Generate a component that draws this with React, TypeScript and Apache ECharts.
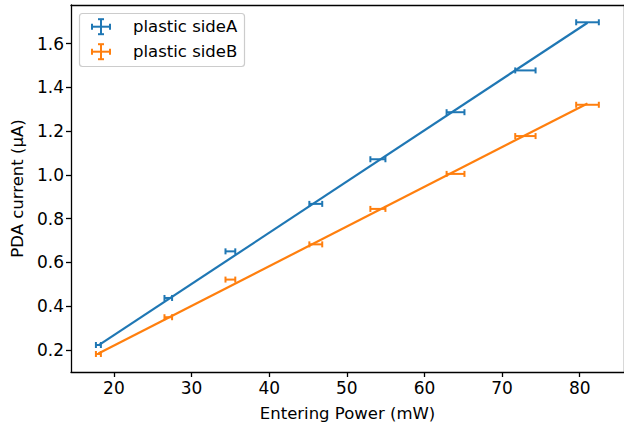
import React, { useEffect, useRef } from "react";
import * as echarts from "echarts";

const xValues = [18, 27, 35, 46, 54, 64, 73, 81];
const xErr = [0.32, 0.49, 0.63, 0.83, 0.97, 1.15, 1.31, 1.46];
const sideA = [0.222, 0.437, 0.65, 0.867, 1.071, 1.286, 1.477, 1.697];
const sideB = [0.181, 0.349, 0.521, 0.682, 0.844, 1.004, 1.177, 1.32];
const fitX = [18, 81];
const fitA = [0.22, 1.695];
const fitB = [0.183, 1.326];
const xTicks = [20, 30, 40, 50, 60, 70, 80];
const yTicks = [0.2, 0.4, 0.6, 0.8, 1.0, 1.2, 1.4, 1.6];
const seriesNames = ["plastic sideA", "plastic sideB"];
const colors = ["#1f77b4", "#ff7f0e"];

const FONT = "DejaVu Sans";
const FS = 16.5;

function errRender(color: string) {
  return (params: any, api: any) => {
    const x = api.value(0);
    const y = api.value(1);
    const e = api.value(2);
    const p1 = api.coord([x - e, y]);
    const p2 = api.coord([x + e, y]);
    const cap = 3;
    const st = { stroke: color, lineWidth: 2 };
    return {
      type: "group",
      children: [
        { type: "line", shape: { x1: p1[0], y1: p1[1], x2: p2[0], y2: p2[1] }, style: st },
        { type: "line", shape: { x1: p1[0], y1: p1[1] - cap, x2: p1[0], y2: p1[1] + cap }, style: st },
        { type: "line", shape: { x1: p2[0], y1: p2[1] - cap, x2: p2[0], y2: p2[1] + cap }, style: st },
      ],
    };
  };
}

function legendIcon(cx: number, cy: number, color: string) {
  const st = { stroke: color, lineWidth: 2 };
  const hw = 9;
  const hh = 7.5;
  const c = 3;
  return [
    { type: "line", shape: { x1: cx - hw, y1: cy, x2: cx + hw, y2: cy }, style: st },
    { type: "line", shape: { x1: cx - hw, y1: cy - c, x2: cx - hw, y2: cy + c }, style: st },
    { type: "line", shape: { x1: cx + hw, y1: cy - c, x2: cx + hw, y2: cy + c }, style: st },
    { type: "line", shape: { x1: cx, y1: cy - hh, x2: cx, y2: cy + hh }, style: st },
    { type: "line", shape: { x1: cx - c, y1: cy - hh, x2: cx + c, y2: cy - hh }, style: st },
    { type: "line", shape: { x1: cx - c, y1: cy + hh, x2: cx + c, y2: cy + hh }, style: st },
  ];
}

export default function App() {
  const ref = useRef<HTMLDivElement>(null);
  useEffect(() => {
    if (!ref.current) return;
    const chart = echarts.init(ref.current, null, { renderer: "svg" });
    const axisLineStyle = { color: "#000", width: 1.3 };
    const labelStyle = { color: "#000", fontSize: FS, fontFamily: FONT };
    const tickLabelStyle = { color: "#000", fontSize: 17, fontFamily: FONT };
    const xMin = 14.47;
    const xMax = 85.7;
    const yMin = 0.0986;
    const yMax = 1.776;
    const option: any = {
      animation: false,
      grid: { left: 71, top: 5, width: 558, height: 369 },
      xAxis: [
        {
          type: "value",
          min: xMin,
          max: xMax,
          axisLine: { onZero: false, lineStyle: axisLineStyle },
          axisTick: { customValues: xTicks, length: 5, lineStyle: axisLineStyle },
          axisLabel: { customValues: xTicks, margin: 7, ...tickLabelStyle },
          splitLine: { show: false },
          name: "Entering Power (mW)",
          nameLocation: "middle",
          nameGap: 33,
          nameTextStyle: labelStyle,
        },
        {
          type: "value",
          position: "top",
          min: xMin,
          max: xMax,
          axisLine: { show: true, onZero: false, lineStyle: axisLineStyle },
          axisTick: { show: false },
          axisLabel: { show: false },
          splitLine: { show: false },
        },
      ],
      yAxis: [
        {
          type: "value",
          min: yMin,
          max: yMax,
          axisLine: { show: true, onZero: false, lineStyle: axisLineStyle },
          axisTick: { show: true, customValues: yTicks, length: 5, lineStyle: axisLineStyle },
          axisLabel: {
            customValues: yTicks,
            margin: 7,
            formatter: (v: number) => v.toFixed(1),
            ...tickLabelStyle,
          },
          splitLine: { show: false },
          name: "PDA current (μA)",
          nameLocation: "middle",
          nameGap: 45,
          nameTextStyle: labelStyle,
        },
        {
          type: "value",
          position: "right",
          min: yMin,
          max: yMax,
          axisLine: { show: true, onZero: false, lineStyle: axisLineStyle },
          axisTick: { show: false },
          axisLabel: { show: false },
          splitLine: { show: false },
        },
      ],
      series: [
        {
          name: seriesNames[0] + " fit",
          type: "line",
          data: fitX.map((x, i) => [x, fitA[i]]),
          showSymbol: false,
          lineStyle: { color: colors[0], width: 2.2 },
          z: 2,
        },
        {
          name: seriesNames[1] + " fit",
          type: "line",
          data: fitX.map((x, i) => [x, fitB[i]]),
          showSymbol: false,
          lineStyle: { color: colors[1], width: 2.2 },
          z: 2,
        },
        {
          name: seriesNames[0],
          type: "custom",
          renderItem: errRender(colors[0]),
          data: xValues.map((x, i) => [x, sideA[i], xErr[i]]),
          encode: { x: 0, y: 1 },
          z: 3,
        },
        {
          name: seriesNames[1],
          type: "custom",
          renderItem: errRender(colors[1]),
          data: xValues.map((x, i) => [x, sideB[i], xErr[i]]),
          encode: { x: 0, y: 1 },
          z: 3,
        },
      ],
      graphic: [
        {
          type: "rect",
          shape: { x: 79.5, y: 13.5, width: 165, height: 53, r: 3 },
          style: { fill: "rgba(255,255,255,0.8)", stroke: "#cccccc", lineWidth: 1.2 },
          z: 10,
        },
        ...legendIcon(101, 26.7, colors[0]).map((g) => ({ ...g, z: 11 })),
        ...legendIcon(101, 51.7, colors[1]).map((g) => ({ ...g, z: 11 })),
        {
          type: "text",
          x: 133,
          y: 26.7,
          style: { text: seriesNames[0], fill: "#000", font: `${FS}px "${FONT}"`, verticalAlign: "middle" },
          z: 11,
        },
        {
          type: "text",
          x: 133,
          y: 51.7,
          style: { text: seriesNames[1], fill: "#000", font: `${FS}px "${FONT}"`, verticalAlign: "middle" },
          z: 11,
        },
      ],
    };
    chart.setOption(option);
    return () => chart.dispose();
  }, []);
  return (
    <div
      ref={ref}
      style={{ position: "fixed", left: 0, top: 0, width: 624, height: 427, background: "#fff" }}
    />
  );
}
